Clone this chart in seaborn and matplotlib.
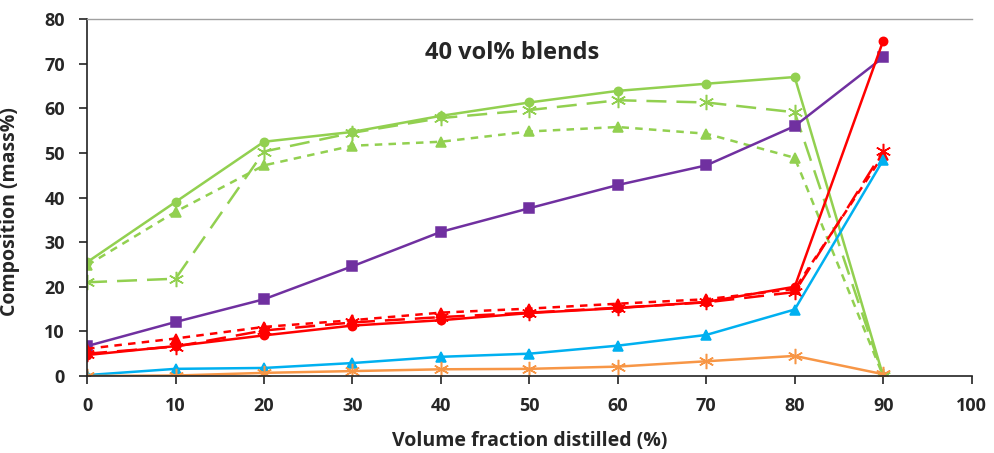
import matplotlib
matplotlib.use("Agg")
import matplotlib.pyplot as plt
import seaborn as sns
import pandas as pd

sns.set_theme(style="white")
plt.rcParams['font.family'] = ['Open Sans', 'DejaVu Sans']

x = [0, 10, 20, 30, 40, 50, 60, 70, 80, 90]

green_circle = [25.5, 39, 52.5, 54.7, 58.3, 61.3, 63.9, 65.5, 67, 0]
green_star   = [21, 21.8, 50.3, 54.5, 57.8, 59.6, 61.8, 61.3, 59.1, 0]
green_tri    = [24.8, 36.8, 47.2, 51.6, 52.5, 54.8, 55.8, 54.3, 48.9, 0]
purple_sq    = [6.7, 12.1, 17.2, 24.6, 32.3, 37.6, 42.8, 47.2, 56, 71.4]
red_circle   = [4.7, 6.7, 9.1, 11.3, 12.5, 14.1, 15.2, 16.6, 20, 75.1]
red_tri      = [6.1, 8.4, 11, 12.5, 14.2, 15.1, 16.2, 17.2, 19.5, 49.5]
red_star     = [5, 6.6, 10.2, 12, 13.2, 14.2, 15.3, 16.5, 18.8, 50.4]
blue_tri     = [0.2, 1.6, 1.8, 2.9, 4.3, 5, 6.8, 9.2, 14.9, 48.4]
orange_star  = [0, 0.1, 0.7, 1.1, 1.5, 1.6, 2.1, 3.3, 4.5, 0.4]

asterisk = (6, 2, 0)
styles = [
    ("green_circle", green_circle, "#92D050", "o", 6, (None, None)),
    ("green_star", green_star, "#92D050", asterisk, 11, (8, 4)),
    ("green_tri", green_tri, "#92D050", "^", 7, (3, 2.5)),
    ("purple_sq", purple_sq, "#7030A0", "s", 7, (None, None)),
    ("red_star", red_star, "#FF0000", asterisk, 11, (8, 4)),
    ("red_tri", red_tri, "#FF0000", "^", 7, (3, 2.5)),
    ("red_circle", red_circle, "#FF0000", "o", 6, (None, None)),
    ("blue_tri", blue_tri, "#00B0F0", "^", 6.5, (None, None)),
    ("orange_star", orange_star, "#F79646", asterisk, 11, (None, None)),
]

fig = plt.figure(figsize=(9.95, 4.53), dpi=100)
ax = fig.add_axes([0.0875, 0.17, 0.889, 0.788])

for name, vals, color, marker, ms, dash in styles:
    df = pd.DataFrame({"x": x, "y": vals})
    line_kw = dict(color=color, marker=marker, markersize=ms, linewidth=1.8,
                   markeredgecolor=color, markerfacecolor=color, markeredgewidth=1.1)
    sns.lineplot(data=df, x="x", y="y", ax=ax, **line_kw)
    ln = ax.lines[-1]
    if dash[0] is not None:
        ln.set_dashes(dash)

ax.set_xlim(0, 100)
ax.set_ylim(0, 80)
ax.set_xticks(range(0, 101, 10))
ax.set_yticks(range(0, 81, 10))
ax.tick_params(axis='both', which='major', direction='out', length=6, width=1.2,
               color='#222222', labelsize=13, bottom=True, left=True)
ax.tick_params(axis='x', pad=9)
ax.tick_params(axis='y', pad=10)
for lab in ax.get_xticklabels() + ax.get_yticklabels():
    lab.set_fontweight('bold')
ax.set_xlabel("Volume fraction distilled (%)", fontsize=14, fontweight='bold', labelpad=12)
ax.set_ylabel("Composition (mass%)", fontsize=14, fontweight='bold')
ax.yaxis.set_label_coords(-0.076, 0.46)
ax.spines['right'].set_visible(False)
ax.spines['top'].set_color('#A0A0A0')
ax.spines['top'].set_linewidth(1.0)
ax.spines['left'].set_color('#222222')
ax.spines['bottom'].set_color('#222222')
ax.spines['left'].set_linewidth(1.2)
ax.spines['bottom'].set_linewidth(1.2)
ax.text(48, 72.4, "40 vol% blends", fontsize=17, fontweight='bold', ha='center', va='center')

fig.savefig("out.png", dpi=100)
